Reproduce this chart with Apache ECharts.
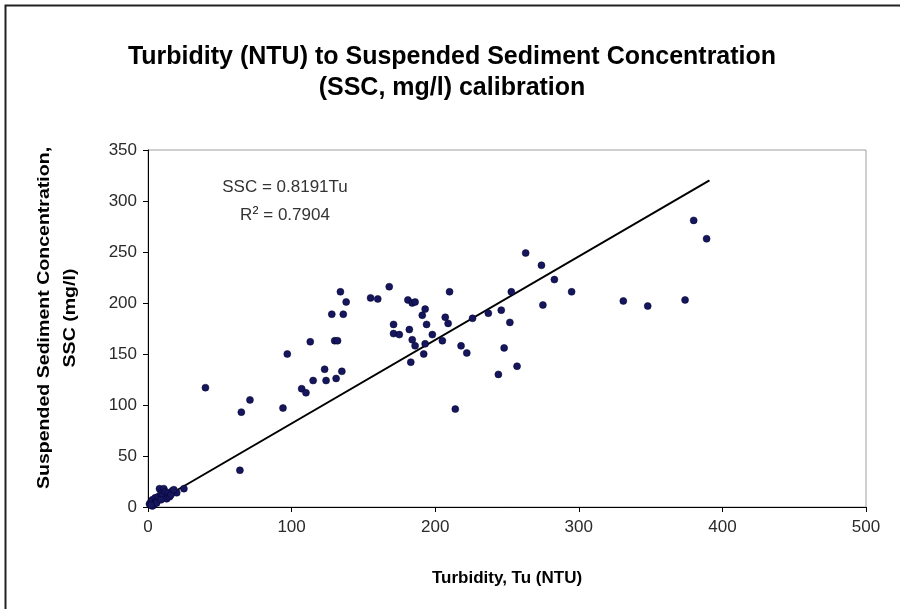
<!DOCTYPE html>
<html><head><meta charset="utf-8">
<script src="https://cdn.jsdelivr.net/npm/echarts@6/dist/echarts.min.js"></script>
<style>html,body{margin:0;padding:0;background:#fff}#c{width:900px;height:609px}</style>
</head><body><div id="c"></div>
<script>
const turbidity = [1,2,3,4,5,6,7,8,9,10,11,12,13,14,15,17,20,25,3,6,9,16,18,2,
  40,64,65,71,94,97,107,110,113,115,123,124,131,135,128,136,130,132,134,138,155,160,168,171,171,175,
  181,184,186,193,191,194,182,184,186,193,192,183,198,205,207,209,210,214,218,222,226,237,244,246,
  248,252,253,257,263,274,275,283,295,331,348,374,380,389];
const ssc = [3,5,7,2,9,6,10,18,13,11,18,15,8,14,10,16,14,18,1,4,7,12,17,2,
  117,36,93,105,97,150,116,112,162,124,135,124,126,133,189,189,163,163,211,201,205,204,216,179,170,169,
  203,200,201,194,188,179,174,164,158,160,150,142,169,163,186,180,211,96,158,151,185,190,130,193,
  156,181,211,138,249,237,198,223,211,202,197,203,281,263];
const xTicks = [0,100,200,300,400,500];
const yTicks = [0,50,100,150,200,250,300,350];
const slope = 0.8191;
const r2 = '0.7904';
const trendX = [0, 391];

const points = turbidity.map((t,i)=>[t, ssc[i]]);
const trend = trendX.map(x=>[x, slope*x]);

const chart = echarts.init(document.getElementById('c'), null, {renderer:'canvas'});
const font = 'Arial, "Liberation Sans", sans-serif';
chart.setOption({
  animation:false,
  backgroundColor:'#fff',
  grid:{left:148, right:34, top:150, bottom:102, show:true, borderColor:'#a0a0a0', borderWidth:1, backgroundColor:'#fff'},
  xAxis:{type:'value', min:xTicks[0], max:xTicks[xTicks.length-1], interval:100,
    axisLine:{show:true, onZero:false, lineStyle:{color:'#000', width:1}},
    axisTick:{show:true, inside:false, length:5, lineStyle:{color:'#000'}},
    axisLabel:{color:'#2a2a2a', fontFamily:font, fontSize:17, margin:12},
    splitLine:{show:false}},
  yAxis:{type:'value', min:yTicks[0], max:yTicks[yTicks.length-1], interval:50,
    axisLine:{show:true, onZero:false, lineStyle:{color:'#000', width:1}},
    axisTick:{show:true, inside:false, length:5, lineStyle:{color:'#000'}},
    axisLabel:{color:'#2a2a2a', fontFamily:font, fontSize:17, margin:11},
    splitLine:{show:false}},
  graphic:[
    {type:'rect', left:3, top:3, shape:{width:1000, height:1000}, style:{fill:'none', stroke:'#222', lineWidth:2}, silent:true},
    {type:'text', x:452, y:57, style:{text:'Turbidity (NTU) to Suspended Sediment Concentration', font:'bold 25px '+font, fill:'#000', textAlign:'center', textVerticalAlign:'middle'}},
    {type:'text', x:452, y:88, style:{text:'(SSC, mg/l) calibration', font:'bold 25px '+font, fill:'#000', textAlign:'center', textVerticalAlign:'middle'}},
    {type:'text', x:507, y:578, style:{text:'Turbidity, Tu (NTU)', font:'bold 17px '+font, fill:'#000', textAlign:'center', textVerticalAlign:'middle'}},
    {type:'text', x:44, y:318, rotation:Math.PI/2, scaleX:1.15, style:{text:'Suspended Sediment Concentration,', font:'bold 17px '+font, fill:'#000', textAlign:'center', textVerticalAlign:'middle'}},
    {type:'text', x:70, y:318, rotation:Math.PI/2, scaleX:1.15, style:{text:'SSC (mg/l)', font:'bold 17px '+font, fill:'#000', textAlign:'center', textVerticalAlign:'middle'}},
    {type:'text', x:285, y:187, style:{text:'SSC = '+slope+'Tu', font:'17px '+font, fill:'#333', textAlign:'center', textVerticalAlign:'middle'}},
    {type:'text', x:285, y:215, style:{text:'{a|R}{s|2}{a| = '+r2+'}', textAlign:'center', textVerticalAlign:'middle',
      rich:{a:{font:'17px '+font, fill:'#333', color:'#333'}, s:{font:'11px '+font, color:'#333', verticalAlign:'top', padding:[0,0,8,0]}}}}
  ],
  series:[
    {type:'line', data:trend, showSymbol:false, symbol:'none', lineStyle:{color:'#000', width:2}, z:3, silent:true},
    {type:'scatter', data:points, symbol:'circle', symbolSize:7, itemStyle:{color:'#16165c', borderColor:'#000030', borderWidth:0.5, opacity:1}, z:4}
  ]
});
</script></body></html>
